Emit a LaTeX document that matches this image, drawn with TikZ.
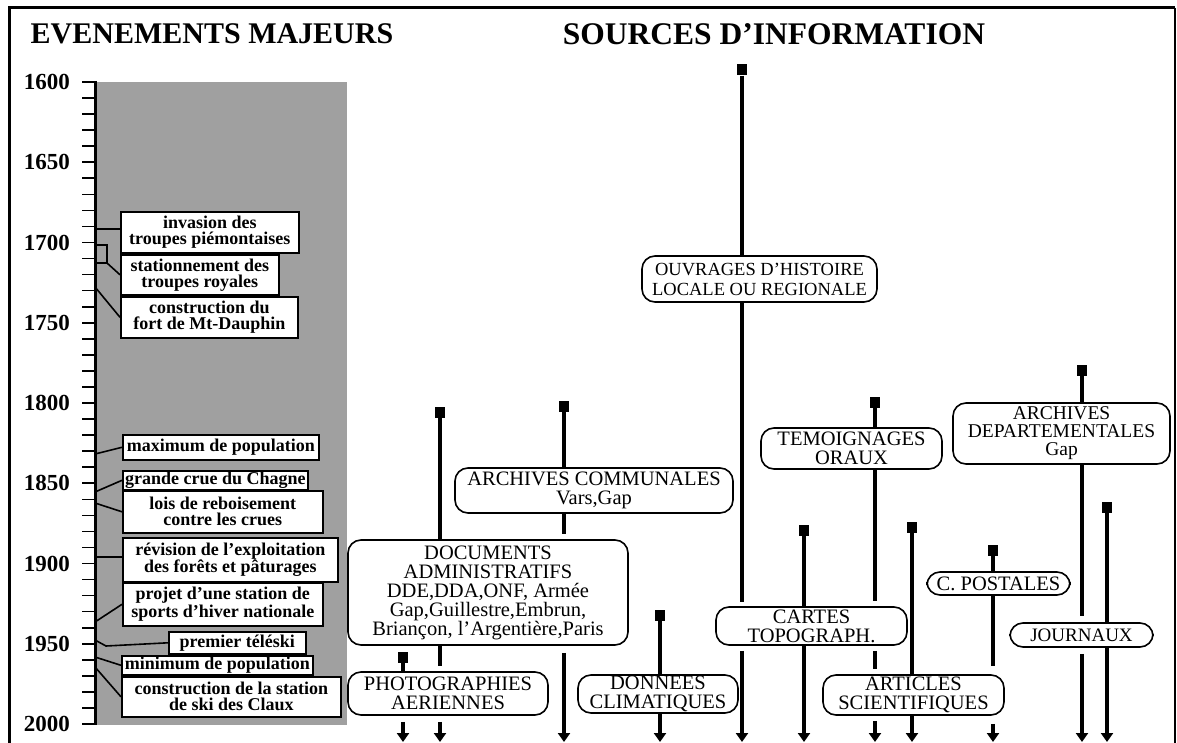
\documentclass[tikz,border=0pt]{standalone}
\usepackage{fontspec}
\setmainfont{Liberation Serif}
\usepackage{tikz}
\usetikzlibrary{
    positioning,
    calc,
    arrows.meta
}
\definecolor{GrisFond}{HTML}{A0A0A0}

\tikzset{
    titre/.style={font=\bfseries\fontsize{30}{30}\selectfont, inner sep=0pt},
    annee/.style={font=\bfseries\fontsize{23}{23}\selectfont, inner sep=0pt, anchor=east},
    evenement/.style={
        draw,
        fill=white,
        line width=1.6pt,
        inner sep=0pt,
        anchor=north west,
        align=center,
        font=\bfseries\fontsize{18}{16}\selectfont
    },
    source/.style={
        draw,
        fill=white,
        line width=1.6pt,
        rounded corners=13pt,
        inner sep=0pt,
        align=center,
        font=\fontsize{20.5}{19}\selectfont
    },
    marque/.style={fill=black, minimum width=10pt, minimum height=11pt, inner sep=0pt},
    tige/.style={line width=4pt},
    fleche/.style={tige, -{Triangle[width=12pt,length=9pt]}},
    lien/.style={line width=1.6pt}
}

\begin{document}
\begin{tikzpicture}[x=1pt,y=-1pt]
    \useasboundingbox (0,0) rectangle (1177,743);
    \fill[white] (0,0) rectangle (1177,743);

    % cadre
    \draw[line width=3pt] (9,743) -- (9,8) -- (1175,8);
    \draw[line width=1.2pt] (1175,8) -- (1175,743);

    % titres
    \node[titre] (titreG) at (212,34) {EVENEMENTS MAJEURS};
    \node[titre, font=\bfseries\fontsize{31.5}{31.5}\selectfont] (titreD) at (774,34)
        {SOURCES D'INFORMATION};

    % echelle du temps
    \fill[GrisFond] (95,82) rectangle (347,725);
    \draw[line width=3pt] (95,81) -- (95,725);
    \foreach \k in {0,...,40}
        \draw[lien] (82,{82+\k*16.05}) -- (95,{82+\k*16.05});
    \foreach \an [count=\i from 0] in {1600,1650,...,2000}
        \node[annee] (an\an) at (70,{82+\i*80.25}) {\an};

    % evenements majeurs
    \node[evenement, minimum width=178pt, minimum height=41pt] (e1) at (120,211)
        {invasion des\\troupes piémontaises};
    \node[evenement, minimum width=158pt, minimum height=40pt] (e2) at (120,254)
        {stationnement des\\troupes royales};
    \node[evenement, minimum width=177pt, minimum height=41pt] (e3) at (120,296)
        {construction du\\fort de Mt-Dauphin};
    \node[evenement, minimum width=196pt, minimum height=25pt] (e4) at (122,434)
        {maximum de population};
    \node[evenement, minimum width=185pt, minimum height=19pt] (e5) at (122,470)
        {grande crue du Chagne};
    \node[evenement, minimum width=200pt, minimum height=42pt] (e6) at (122,490)
        {lois de reboisement\\contre les crues};
    \node[evenement, minimum width=215pt, minimum height=44pt] (e7) at (122,537)
        {révision de l'exploitation\\des forêts et pâturages};
    \node[evenement, minimum width=200pt, minimum height=43pt] (e8) at (122,582)
        {projet d'une station de\\sports d'hiver nationale};
    \node[evenement, minimum width=137pt, minimum height=22pt] (e9) at (168,631)
        {premier téléski};
    \node[evenement, minimum width=191pt, minimum height=19pt] (e10) at (121,655)
        {minimum de population};
    \node[evenement, minimum width=219pt, minimum height=40pt] (e11) at (121,676)
        {construction de la station\\de ski des Claux};

    % liens vers l'axe
    \coordinate (a1) at (95,229);
    \coordinate (a2) at (95,245);
    \coordinate (a2b) at (95,263);
    \coordinate (a3) at (95,287);
    \coordinate (a4) at (95,454);
    \coordinate (a5) at (95,492);
    \coordinate (a6) at (95,503);
    \coordinate (a7) at (95,557);
    \coordinate (a8) at (95,622);
    \coordinate (a9) at (95,640);
    \coordinate (a10) at (95,657);
    \coordinate (a11) at (95,667);
    \draw[lien] (a1) -- (a1 -| e1.west);
    \draw[lien] (a2) -| (107,263) -- (a2b);
    \draw[lien] (107,263) -- (e2.west);
    \draw[lien] (a3) -- (e3.west);
    \draw[lien] (a4) -- (e4.west);
    \draw[lien] (a5) -- (e5.west);
    \draw[lien] (a6) -- (e6.west);
    \draw[lien] (a7) -- (a7 -| e7.west);
    \draw[lien] (a8) -- (e8.west);
    \draw[lien] (a9) -- (106,646) -- (e9.west);
    \draw[lien] (a10) -- (e10.west);
    \draw[lien] (a11) -- (e11.west);

    % sources d'information
    \node[source, minimum width=278pt, minimum height=45pt] (comm) at (594,490.5)
        {ARCHIVES COMMUNALES\\Vars,Gap};
    \node[source, minimum width=280pt, minimum height=105pt] (docs) at (488,592.5)
        {DOCUMENTS\\ADMINISTRATIFS\\DDE,DDA,ONF, Armée\\Gap,Guillestre,Embrun,\\Briançon, l'Argentière,Paris};
    \node[source, minimum width=200pt, minimum height=43pt] (photo) at (448,693.5)
        {PHOTOGRAPHIES\\AERIENNES};
    \node[source, minimum width=160pt, minimum height=38pt] (donn) at (658,694)
        {DONNEES\\CLIMATIQUES};
    \node[source, minimum width=235pt, minimum height=46pt,
          font=\fontsize{18.5}{20}\selectfont] (ouvr) at (759.5,279)
        {OUVRAGES D'HISTOIRE\\LOCALE OU REGIONALE};
    \node[source, minimum width=181pt, minimum height=41pt] (temo) at (851.5,448.5)
        {TEMOIGNAGES\\ORAUX};
    \node[source, minimum width=217pt, minimum height=61pt,
          font=\fontsize{19.5}{18}\selectfont] (archd) at (1061.5,433.5)
        {ARCHIVES\\DEPARTEMENTALES\\Gap};
    \node[source, minimum width=191pt, minimum height=38pt] (cartes) at (811.5,626)
        {CARTES\\TOPOGRAPH.};
    \node[source, minimum width=181pt, minimum height=40pt] (artic) at (913.5,695)
        {ARTICLES\\SCIENTIFIQUES};
    \node[source, minimum width=143pt, minimum height=23pt] (cpost) at (998.5,583.5)
        {C. POSTALES};
    \node[source, minimum width=143pt, minimum height=24pt,
          font=\fontsize{19}{17}\selectfont] (journ) at (1081.5,635)
        {JOURNAUX};

    % debut de chaque source
    \node[marque] (mA) at (440,412) {};
    \node[marque] (mP) at (403,657) {};
    \node[marque] (mB) at (564,406) {};
    \node[marque] (mD) at (660,615) {};
    \node[marque] (mO) at (742,70) {};
    \node[marque] (mT) at (875,402) {};
    \node[marque] (mC) at (804,530) {};
    \node[marque] (mS) at (912,527) {};
    \node[marque] (mK) at (993,550) {};
    \node[marque] (mR) at (1082,370) {};
    \node[marque] (mJ) at (1107,507) {};

    % fin (vers 2000)
    \foreach \m in {A,P,B,D,O,T,C,S,K,R,J}
        \coordinate (f\m) at ($(m\m)!1!(m\m |- 0,742)$);

    % lignes de vie des sources
    \draw[tige] (mA) -- (docs.north -| mA);
    \draw[tige, shorten >=5pt] (docs.south -| mA) -- (photo.north -| mA);
    \draw[fleche, shorten <=6pt] (photo.south -| mA) -- (fA);

    \draw[tige] (mP) -- (photo.north -| mP);
    \draw[fleche, shorten <=6pt] (photo.south -| mP) -- (fP);

    \draw[tige] (mB) -- (comm.north -| mB);
    \draw[tige, shorten >=5pt] (comm.south -| mB) -- (docs.north -| mB);
    \draw[fleche, shorten <=7pt] (docs.south -| mB) -- (fB);

    \draw[tige] (mD) -- (donn.north -| mD);
    \draw[fleche] (donn.south -| mD) -- (fD);

    \draw[tige] (mO) -- (ouvr.north -| mO);
    \draw[tige, shorten >=4pt] (ouvr.south -| mO) -- (cartes.north -| mO);
    \draw[fleche, shorten <=5pt] (cartes.south -| mO) -- (fO);

    \draw[tige] (mT) -- (temo.north -| mT);
    \draw[tige, shorten >=5pt] (temo.south -| mT) -- (cartes.north -| mT);
    \draw[tige, shorten <=5pt, shorten >=5pt] (cartes.south -| mT) -- (artic.north -| mT);
    \draw[fleche, shorten <=5pt] (artic.south -| mT) -- (fT);

    \draw[tige] (mC) -- (cartes.north -| mC);
    \draw[fleche] (cartes.south -| mC) -- (fC);

    \draw[tige] (mS) -- (artic.north -| mS);
    \draw[fleche] (artic.south -| mS) -- (fS);

    \draw[tige] (mK) -- (cpost.north -| mK);
    \draw[tige, shorten >=8pt] (cpost.south -| mK) -- (artic.north -| mK);
    \draw[fleche, shorten <=8pt] (artic.south -| mK) -- (fK);

    \draw[tige] (mR) -- (archd.north -| mR);
    \draw[tige, shorten >=6pt] (archd.south -| mR) -- (journ.north -| mR);
    \draw[fleche, shorten <=6pt] (journ.south -| mR) -- (fR);

    \draw[tige] (mJ) -- (journ.north -| mJ);
    \draw[fleche] (journ.south -| mJ) -- (fJ);
\end{tikzpicture}
\end{document}
